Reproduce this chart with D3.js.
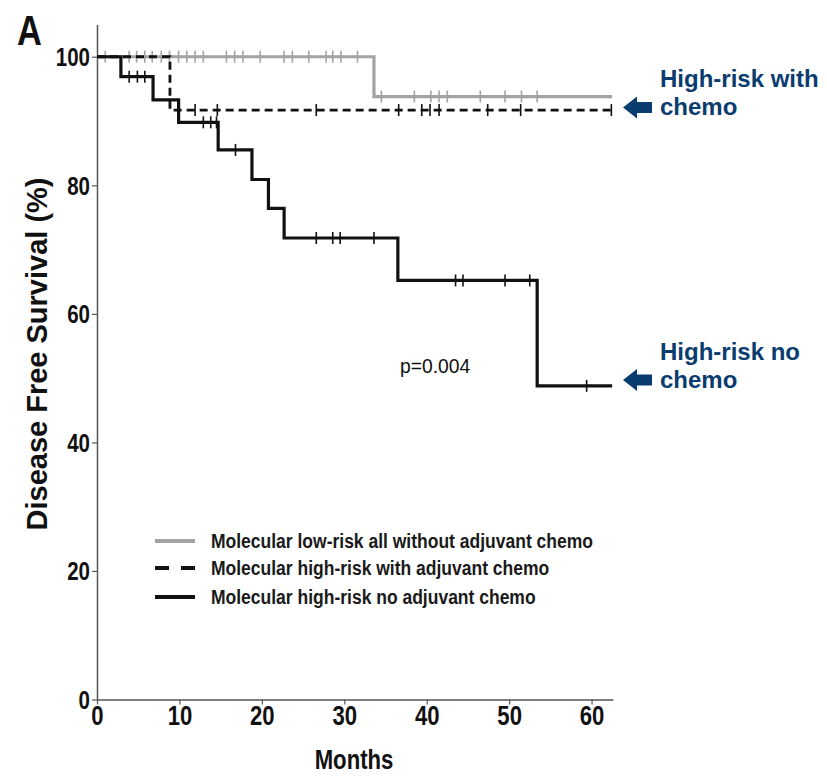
<!DOCTYPE html>
<html>
<head>
<meta charset="utf-8">
<script src="https://cdn.jsdelivr.net/npm/d3@7"></script>
<style>
  body { margin: 0; background: #fff; }
  svg { display: block; }
</style>
</head>
<body>
<div id="chart"></div>
<script>
// ---- data (months, % disease free) ----
const xTicks = [0, 10, 20, 30, 40, 50, 60];
const yTicks = [0, 20, 40, 60, 80, 100];

const lowTimes = [0, 33.6];
const lowSurv = [100, 93.8];
const lowEnd = 62.5;
const lowCensor = [1, 3.9, 4.8, 5.8, 6.7, 7.8, 8.8, 9.9, 10.9, 11.9, 12.9, 15.7, 16.7, 17.7, 19.8,
  22.7, 23.7, 25.7, 27.8, 28.6, 29.6, 31.6, 34.5, 38.5, 40.5, 41.5, 42.5, 46.5, 49.5, 51.5, 53.4];

const chemoTimes = [0, 8.85];
const chemoSurv = [100, 91.7];
const chemoEnd = 62.4;
const chemoCensor = [11.9, 14.6, 26.6, 36.6, 39.4, 40.4, 41.5, 47.4, 51.4, 62.4];

const noChemoTimes = [0, 2.9, 6.8, 9.9, 14.7, 18.8, 20.8, 22.7, 36.5, 53.4];
const noChemoSurv = [100, 96.9, 93.3, 89.8, 85.5, 80.9, 76.4, 71.8, 65.2, 48.8];
const noChemoEnd = 62.5;
const noChemoCensor = [3.9, 4.9, 5.8, 12.9, 13.8, 14.5, 16.8, 26.6, 28.6, 29.5, 33.6, 43.5, 44.4, 49.5, 52.5, 59.4];

const legendLabels = [
  "Molecular low-risk all without adjuvant chemo",
  "Molecular high-risk with adjuvant chemo",
  "Molecular high-risk no adjuvant chemo"
];

// ---- layout ----
const W = 827, H = 776;
const svg = d3.select("#chart").append("svg").attr("width", W).attr("height", H);

const x = d3.scaleLinear().domain([0, 62.6]).range([97, 613]);
const y = d3.scaleLinear().domain([0, 105]).range([699.5, 24.6]);

const NAVY = "#0a3c70";
const GRAY = "#a3a3a3";
const SANS = "'Liberation Sans', Arial, sans-serif";

// the original uses a condensed bold face; squeeze Liberation Sans horizontally instead
const SQUEEZE = 0.82;

// axes
const xAxis = svg.append("g")
  .attr("transform", `translate(0,${y(0)})`)
  .call(d3.axisBottom(x).tickValues(xTicks).tickSize(5).tickSizeOuter(0));
const yAxis = svg.append("g")
  .attr("transform", `translate(${x(0)},0)`)
  .call(d3.axisLeft(y).tickValues(yTicks).tickSize(5).tickSizeOuter(0));

[xAxis, yAxis].forEach(a => {
  a.select(".domain").attr("stroke", "#555").attr("stroke-width", 1.5);
  a.selectAll(".tick line").attr("stroke", "#555").attr("stroke-width", 1.2);
  a.selectAll("text")
    .attr("fill", "#111")
    .style("font-family", SANS)
    .style("font-weight", "bold")
    .attr("transform", `scale(${SQUEEZE},1)`);
});
xAxis.selectAll("text").style("font-size", "27px").attr("y", 4).attr("dy", "0.78em");
yAxis.selectAll("text").style("font-size", "25px").attr("x", -7 / SQUEEZE).attr("dy", "0.36em");

// axis titles
svg.append("text")
  .attr("transform", `translate(354,769) scale(${SQUEEZE},1)`)
  .attr("text-anchor", "middle")
  .style("font-family", SANS)
  .style("font-weight", "bold").style("font-size", "27px")
  .attr("fill", "#111")
  .text("Months");

svg.append("text")
  .attr("transform", "translate(47,354) rotate(-90)")
  .attr("text-anchor", "middle")
  .style("font-family", SANS)
  .style("font-weight", "bold").style("font-size", "29px")
  .attr("fill", "#111")
  .text("Disease Free Survival (%)");

svg.append("text")
  .attr("transform", `translate(17,45) scale(${SQUEEZE},1)`)
  .style("font-family", SANS)
  .style("font-weight", "bold").style("font-size", "42px")
  .attr("fill", "#111")
  .text("A");

// ---- KM curves ----
function stepPoints(times, surv, end) {
  const pts = times.map((t, i) => [t, surv[i]]);
  pts.push([end, surv[surv.length - 1]]);
  return pts;
}
function survAt(times, surv, t) {
  let s = surv[0];
  times.forEach((tt, i) => { if (tt <= t) s = surv[i]; });
  return s;
}
const line = d3.line().x(d => x(d[0])).y(d => y(d[1])).curve(d3.curveStepAfter);

const series = [
  { times: lowTimes, surv: lowSurv, end: lowEnd, censor: lowCensor, color: GRAY, width: 3.2, dash: null },
  { times: chemoTimes, surv: chemoSurv, end: chemoEnd, censor: chemoCensor, color: "#111", width: 2.8, dash: "8,5" },
  { times: noChemoTimes, surv: noChemoSurv, end: noChemoEnd, censor: noChemoCensor, color: "#111", width: 3.2, dash: null }
];

series.forEach(s => {
  svg.append("path")
    .datum(stepPoints(s.times, s.surv, s.end))
    .attr("fill", "none")
    .attr("stroke", s.color)
    .attr("stroke-width", s.width)
    .attr("stroke-dasharray", s.dash)
    .attr("d", line);
  svg.append("g").selectAll("line")
    .data(s.censor)
    .join("line")
    .attr("x1", d => x(d)).attr("x2", d => x(d))
    .attr("y1", d => y(survAt(s.times, s.surv, d)) - 6)
    .attr("y2", d => y(survAt(s.times, s.surv, d)) + 6)
    .attr("stroke", s.color)
    .attr("stroke-width", 1.6);
});

// p-value
svg.append("text")
  .attr("transform", "translate(400,373) scale(0.92,1)")
  .style("font-family", SANS)
  .style("font-size", "21px")
  .attr("fill", "#111")
  .text("p=0.004");

// ---- legend ----
const lg = svg.append("g");
const legendY = [541, 568, 597];
series.forEach((s, i) => {
  lg.append("line")
    .attr("x1", 155).attr("x2", 195)
    .attr("y1", legendY[i]).attr("y2", legendY[i])
    .attr("stroke", s.color)
    .attr("stroke-width", 4)
    .attr("stroke-dasharray", s.dash ? "14,12" : null);
  lg.append("text")
    .attr("transform", `translate(211,${legendY[i]}) scale(0.875,1)`)
    .attr("dy", "0.36em")
    .style("font-family", SANS)
    .style("font-weight", "bold")
    .style("font-size", "20px")
    .attr("fill", "#1a1a1a")
    .text(legendLabels[i]);
});

// ---- annotations ----
const notes = [
  { lines: ["High-risk with", "chemo"], base: 87, arrowY: 107.5 },
  { lines: ["High-risk no", "chemo"], base: 360, arrowY: 380 }
];
notes.forEach(n => {
  n.lines.forEach((l, i) => {
    svg.append("text")
      .attr("x", 660).attr("y", n.base + i * 27.5)
      .style("font-family", SANS)
      .style("font-weight", "bold").style("font-size", "24px")
      .attr("fill", NAVY)
      .text(l);
  });
  const ay = n.arrowY;
  svg.append("path")
    .attr("d", `M623,${ay} L637,${ay - 11} L637,${ay - 5.5} L652,${ay - 5.5} L652,${ay + 5.5} L637,${ay + 5.5} L637,${ay + 11} Z`)
    .attr("fill", NAVY);
});
</script>
</body>
</html>
